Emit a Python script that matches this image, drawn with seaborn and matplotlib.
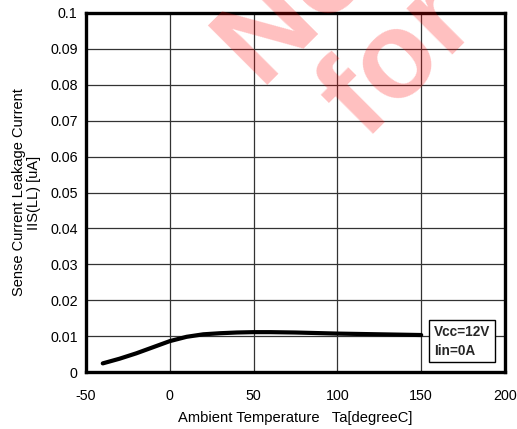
import matplotlib
matplotlib.use("Agg")
import matplotlib.pyplot as plt
import seaborn as sns
import pandas as pd

temperature = [-40, -30, -20, -10, 0, 10, 20, 30, 40, 50, 60, 75, 100, 125, 150]
leakage = [0.0024, 0.0037, 0.0052, 0.0069, 0.0086, 0.0098, 0.0105, 0.0108,
           0.0110, 0.0111, 0.0111, 0.0110, 0.0107, 0.0105, 0.0103]
x_ticks = [-50, 0, 50, 100, 150, 200]
y_ticks = [0, 0.01, 0.02, 0.03, 0.04, 0.05, 0.06, 0.07, 0.08, 0.09, 0.1]
y_tick_labels = ["0", "0.01", "0.02", "0.03", "0.04", "0.05", "0.06", "0.07", "0.08", "0.09", "0.1"]
x_label = "Ambient Temperature   Ta[degreeC]"
y_label = "Sense Current Leakage Current\nIIS(LL) [uA]"
condition_text = "Vcc=12V\nIin=0A"
watermark_lines = ["Not Recommended", "for New Designs"]

sns.set_theme(style="white")
plt.rcParams['font.family'] = ['Liberation Sans', 'DejaVu Sans']

W, H = 517, 429
fig = plt.figure(figsize=(W / 100, H / 100), dpi=100)
ax = fig.add_axes([86 / W, 1 - 372 / H, (505 - 86) / W, (372 - 13) / H])

df = pd.DataFrame({"T": temperature, "I": leakage})
sns.lineplot(data=df, x="T", y="I", ax=ax, color="black", linewidth=3.0, zorder=3)

ax.set_xlim(-50, 200)
ax.set_ylim(0, 0.1)
ax.set_xticks(x_ticks)
ax.set_xticklabels([str(t) for t in x_ticks])
ax.set_yticks(y_ticks)
ax.set_yticklabels(y_tick_labels)
ax.grid(True, color="#333333", linewidth=0.9)
ax.tick_params(axis="both", length=0, labelsize=10.3, colors="black")
ax.tick_params(axis="x", pad=12)
ax.tick_params(axis="y", pad=6)
for s in ax.spines.values():
    s.set_color("black")
    s.set_linewidth(2.4)

ax.set_xlabel(x_label, fontsize=10.6, color="black", labelpad=6)
ax.set_ylabel(y_label, fontsize=10.5, color="black", linespacing=1.15)
ax.yaxis.set_label_coords(-0.107, 0.5)

ax.text(157.5, 0.0040, condition_text, fontsize=9.8, fontweight="bold",
        ha="left", va="bottom", zorder=5, linespacing=1.45,
        bbox=dict(boxstyle="square,pad=0.35", facecolor="white", edgecolor="black", linewidth=1.0))

# watermark
anchors = [(262, 90), (366, 142)]
for txt, (px, py) in zip(watermark_lines, anchors):
    fig.text(px / W, 1 - py / H, txt, rotation=45, rotation_mode="anchor",
             ha="left", va="baseline", fontsize=88, fontweight="bold",
             color="red", alpha=0.25, zorder=10)

fig.savefig("out.png", dpi=100)
